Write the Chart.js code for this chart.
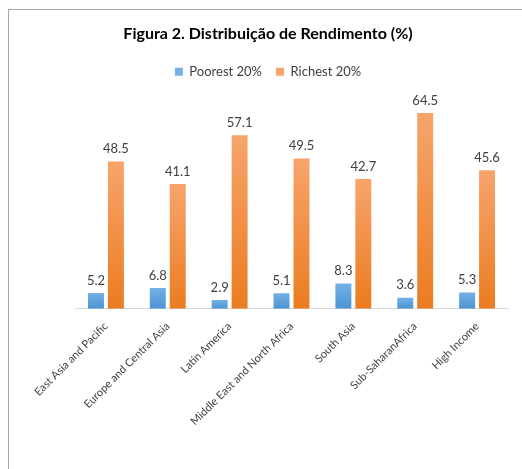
<!DOCTYPE html>
<html>
<head>
<meta charset="utf-8">
<script src="https://cdn.jsdelivr.net/npm/chart.js@4"></script>
<style>
  html, body { margin: 0; padding: 0; background: #fff; overflow: hidden; }
  #frame {
    position: absolute; left: 8px; top: 9px; width: 518px; height: 470px;
    border-top: 1px solid #a6a6a6; border-left: 1px solid #a6a6a6;
  }
  #frame canvas { display: block; }
</style>
</head>
<body>
<div id="frame"><canvas id="rendChart" width="518" height="470"></canvas></div>
<script>
const regions = ['East Asia and Pacific', 'Europe and Central Asia', 'Latin America',
    'Middle East and North Africa', 'South Asia', 'Sub-SaharanAfrica', 'High Income'];
const poorest = [5.2, 6.8, 2.9, 5.1, 8.3, 3.6, 5.3];
const richest = [48.5, 41.1, 57.1, 49.5, 42.7, 64.5, 45.6];
const seriesNames = ['Poorest 20%', 'Richest 20%'];

// vertical gradient per bar, like the Excel fill
function barFill(top, bottom, solid) {
    return function(context) {
        const chart = context.chart;
        const y = chart.scales && chart.scales.y;
        if (!y || context.parsed === undefined || context.type !== 'data') {
            return solid;
        }
        const y0 = y.getPixelForValue(context.parsed.y);
        const y1 = y.getPixelForValue(0);
        if (!isFinite(y0) || !isFinite(y1) || y0 === y1) {
            return solid;
        }
        const g = chart.ctx.createLinearGradient(0, y0, 0, y1);
        g.addColorStop(0, top);
        g.addColorStop(1, bottom);
        return g;
    };
}

const valueLabels = {
    id: 'valueLabels',
    afterDatasetsDraw(chart) {
        const ctx = chart.ctx;
        ctx.save();
        ctx.font = "13px 'Lato', sans-serif";
        ctx.fillStyle = '#404040';
        ctx.textAlign = 'center';
        ctx.textBaseline = 'bottom';
        chart.data.datasets.forEach((ds, i) => {
            chart.getDatasetMeta(i).data.forEach((bar, j) => {
                ctx.fillText(ds.data[j].toFixed(1), bar.x, bar.y - 6);
            });
        });
        ctx.restore();
    }
};

// a bit more room under the legend
const legendGap = {
    id: 'legendGap',
    beforeInit(chart) {
        const fit = chart.legend.fit;
        chart.legend.fit = function() {
            fit.bind(chart.legend)();
            this.height += 8;
        };
    }
};

const ctx = document.getElementById('rendChart');
new Chart(ctx, {
    type: 'bar',
    data: {
        labels: regions,
        datasets: [{
            label: seriesNames[0],
            data: poorest,
            backgroundColor: barFill('#73b1e6', '#4d93d3', '#5b9bd5'),
            borderWidth: 0,
            categoryPercentage: 0.645,
            barPercentage: 0.8
        }, {
            label: seriesNames[1],
            data: richest,
            backgroundColor: barFill('#f7a46c', '#eb7c20', '#ed7d31'),
            borderWidth: 0,
            categoryPercentage: 0.645,
            barPercentage: 0.8
        }]
    },
    options: {
        responsive: false,
        animation: false,
        devicePixelRatio: 1,
        layout: {
            padding: { left: 19, right: 19, top: 0, bottom: 49 }
        },
        plugins: {
            title: {
                display: true,
                text: 'Figura 2. Distribuição de Rendimento (%)',
                color: '#000',
                font: { family: "'Lato', sans-serif", size: 16, weight: 'bold' },
                padding: { top: 14, bottom: 8 }
            },
            legend: {
                position: 'top',
                labels: {
                    color: '#404040',
                    font: { family: "'Lato', sans-serif", size: 13 },
                    boxWidth: 8,
                    boxHeight: 8,
                    padding: 14
                }
            },
            tooltip: { enabled: false }
        },
        scales: {
            x: {
                grid: { display: false },
                border: { display: true, color: '#d9d9d9', width: 1 },
                ticks: {
                    color: '#404040',
                    font: { family: "'Lato', sans-serif", size: 11 },
                    minRotation: 45,
                    maxRotation: 45,
                    autoSkip: false
                }
            },
            y: {
                min: 0,
                max: 70,
                grid: { display: false },
                border: { display: false },
                ticks: { display: false },
                afterFit(scale) {
                    scale.width = 47;
                }
            }
        }
    },
    plugins: [valueLabels, legendGap]
});
</script>
</body>
</html>
